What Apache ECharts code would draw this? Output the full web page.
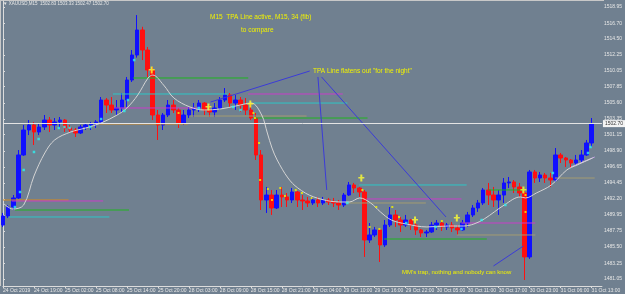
<!DOCTYPE html>
<html>
<head>
<meta charset="utf-8">
<script src="https://cdn.jsdelivr.net/npm/echarts@6/dist/echarts.min.js"></script>
<style>
  html, body { margin: 0; padding: 0; background: #708090; }
  #chart { width: 625px; height: 294px; }
</style>
</head>
<body>
<div id="chart"></div>
<script>
// time labels, one every 6 bars (hourly bars)
const xLabels = ['24 Oct 2019', '24 Oct 19:00', '25 Oct 02:00', '25 Oct 08:00', '25 Oct 14:00',
  '25 Oct 20:00', '28 Oct 03:00', '28 Oct 09:00', '28 Oct 15:00', '28 Oct 21:00',
  '29 Oct 04:00', '29 Oct 10:00', '29 Oct 16:00', '29 Oct 22:00', '30 Oct 05:00',
  '30 Oct 11:00', '30 Oct 17:00', '30 Oct 23:00', '31 Oct 06:00', '31 Oct 13:00'];
const barsPerLabel = 6;
const barSlots = 117;

const yTicks = [1481.05, 1483.25, 1485.50, 1487.75, 1489.95, 1492.20, 1494.45, 1496.65, 1498.90,
  1501.15, 1503.35, 1505.60, 1507.85, 1510.05, 1512.25, 1514.50, 1516.70, 1518.95];

// XAUUSD bars (open = previous close)
const firstOpen = 1488.57;
const closes = [
  1489.83, 1491.08, 1492.34, 1498.33, 1501.81, 1502.51, 1501.53, 1502.23, 1503.20, 1502.51,
  1502.93, 1503.20, 1502.09, 1501.81, 1501.39, 1502.23, 1502.51, 1502.65, 1502.93, 1505.99,
  1505.29, 1504.60, 1504.88, 1505.99, 1508.78, 1512.26, 1515.75, 1512.96, 1510.17, 1503.90,
  1502.51, 1503.90, 1505.29, 1504.60, 1502.79, 1503.90, 1504.60, 1504.88, 1505.57, 1504.60,
  1504.32, 1504.88, 1505.99, 1506.69, 1505.57, 1505.99, 1505.29, 1504.60, 1503.48, 1498.33,
  1492.06, 1492.75, 1490.94, 1492.75, 1492.48, 1492.06, 1493.17, 1492.06, 1491.92, 1491.64,
  1492.06, 1491.64, 1492.06, 1491.78, 1491.64, 1491.36, 1492.75, 1494.15, 1493.73, 1493.17,
  1486.48, 1487.18, 1487.88, 1485.79, 1488.57, 1489.97, 1489.27, 1488.57, 1489.27, 1488.57,
  1487.88, 1487.46, 1487.60, 1488.57, 1488.85, 1488.30, 1488.57, 1488.16, 1487.88, 1488.85,
  1489.97, 1490.94, 1491.64, 1493.45, 1492.75, 1492.06, 1492.75, 1494.43, 1494.57, 1493.87,
  1493.03, 1484.12, 1495.96, 1495.12, 1495.54, 1495.12, 1494.84, 1498.33, 1497.91, 1497.63,
  1497.21, 1497.63, 1498.33, 1500.00, 1502.70];
const highs = [
  1490.25, 1491.36, 1492.75, 1499.02, 1502.51, 1503.20, 1502.93, 1502.65, 1503.90, 1503.62,
  1503.48, 1503.62, 1503.34, 1502.51, 1502.09, 1502.51, 1502.79, 1502.93, 1503.20, 1506.41,
  1506.27, 1506.41, 1505.99, 1506.97, 1509.20, 1512.96, 1517.83, 1516.20, 1513.38, 1510.59,
  1504.60, 1504.18, 1505.99, 1505.99, 1504.88, 1504.60, 1505.02, 1505.57, 1505.99, 1505.71,
  1505.29, 1505.57, 1506.41, 1507.66, 1506.97, 1506.69, 1506.41, 1506.27, 1505.57, 1504.18,
  1499.02, 1493.87, 1493.45, 1493.45, 1493.87, 1493.03, 1493.73, 1493.31, 1492.75, 1492.48,
  1492.48, 1492.48, 1492.48, 1492.34, 1492.34, 1492.06, 1493.03, 1494.57, 1494.43, 1493.87,
  1493.45, 1488.85, 1488.30, 1488.02, 1489.27, 1491.08, 1490.66, 1489.69, 1489.97, 1489.41,
  1488.85, 1488.02, 1487.88, 1488.99, 1489.27, 1488.99, 1488.85, 1488.99, 1488.57, 1489.27,
  1490.39, 1491.36, 1492.06, 1493.73, 1494.43, 1493.87, 1493.45, 1495.12, 1495.26, 1494.84,
  1494.43, 1493.31, 1496.24, 1496.24, 1495.96, 1495.82, 1495.82, 1499.30, 1498.61, 1498.05,
  1497.77, 1498.33, 1499.02, 1500.42, 1503.48];
const lows = [
  1488.30, 1489.55, 1490.66, 1492.20, 1498.20, 1501.11, 1499.72, 1501.11, 1501.81, 1501.53,
  1501.81, 1502.09, 1501.53, 1501.39, 1500.84, 1501.25, 1501.81, 1501.81, 1502.09, 1502.79,
  1504.18, 1504.18, 1503.90, 1504.32, 1505.02, 1508.50, 1511.90, 1511.56, 1509.20, 1503.20,
  1500.42, 1501.81, 1503.62, 1504.18, 1502.09, 1502.51, 1503.48, 1503.62, 1504.32, 1503.90,
  1503.62, 1503.62, 1504.60, 1505.71, 1505.02, 1504.60, 1504.32, 1503.90, 1503.20, 1497.63,
  1490.66, 1490.25, 1489.97, 1490.80, 1491.08, 1491.08, 1491.64, 1491.08, 1490.66, 1491.08,
  1491.36, 1491.08, 1491.36, 1491.36, 1491.08, 1490.66, 1491.08, 1492.62, 1493.03, 1492.48,
  1484.12, 1486.07, 1486.90, 1483.42, 1485.51, 1488.30, 1488.30, 1487.60, 1488.30, 1487.88,
  1487.18, 1486.90, 1486.90, 1487.46, 1487.88, 1487.74, 1487.88, 1487.60, 1487.18, 1487.74,
  1488.30, 1489.69, 1490.39, 1491.36, 1491.36, 1491.08, 1489.97, 1491.64, 1493.73, 1493.03,
  1492.48, 1480.91, 1483.84, 1494.43, 1494.57, 1494.43, 1493.87, 1494.57, 1497.21, 1496.66,
  1496.52, 1496.93, 1497.21, 1498.20, 1499.44];
const lastPrice = 1502.70;

// TPA line (34 fib) points: [bar, price]
const tpaLine = [
  [0, 1491.64], [1.9, 1490.80], [4.0, 1491.36], [6.0, 1495.40], [8.1, 1498.61], [10.0, 1500.42],
  [13.1, 1501.53], [16.0, 1502.09], [19.0, 1502.79], [22.1, 1503.90], [24.0, 1504.88],
  [26.1, 1506.69], [28.1, 1509.06], [29.0, 1509.47], [31.1, 1508.08], [33.1, 1506.27],
  [36.2, 1505.02], [39.0, 1504.60], [42.1, 1504.74], [45.1, 1505.16], [48.1, 1505.57],
  [50.1, 1503.90], [51.2, 1501.39], [52.1, 1499.30], [53.1, 1497.63], [55.2, 1495.12],
  [57.1, 1493.73], [60.2, 1492.48], [65.2, 1491.78], [67.1, 1491.78], [69.1, 1492.34],
  [71.2, 1491.64], [73.1, 1490.39], [75.2, 1489.27], [78.1, 1488.71], [82.1, 1488.30],
  [86.2, 1488.43], [89.2, 1488.43], [91.2, 1488.71], [93.2, 1489.41], [97.1, 1491.36],
  [100.2, 1492.48], [101.2, 1492.34], [103.3, 1493.03], [106.2, 1494.15], [109.2, 1496.24],
  [111.2, 1496.93], [114.2, 1497.91]];

// horizontal levels: [fromBar, toBar, price, colour]
const levels = [
  [25.2, 47.5, 1509.06, 'green'], [21.3, 43.5, 1506.83, 'cyan'], [21.5, 38.3, 1504.88, 'magenta'],
  [18.7, 35.8, 1502.65, 'orange'], [47.5, 65.8, 1506.83, 'magenta'], [48.5, 66.7, 1505.57, 'cyan'],
  [36.3, 58.8, 1503.76, 'khaki'], [48.5, 70.6, 1503.48, 'green'], [0, 12.7, 1492.06, 'orange'],
  [1.7, 19.4, 1491.92, 'magenta'], [2.3, 24.4, 1490.66, 'green'], [1.2, 20.6, 1489.69, 'cyan'],
  [69, 89.8, 1494.15, 'cyan'], [70.4, 88.8, 1492.20, 'magenta'], [66.2, 81.9, 1491.64, 'khaki'],
  [73.8, 93.7, 1486.62, 'green'], [88.8, 103.1, 1488.85, 'magenta'], [87.9, 103.1, 1487.18, 'khaki'],
  [94, 101.2, 1493.45, 'green'], [106.9, 114.6, 1495.12, 'khaki']];
const levelColors = { green: '#1fb51f', cyan: '#2ec6c6', magenta: '#c83ec8', orange: '#d88a1c', khaki: '#a39b72' };

// drawn lines: [[bar, price], [bar, price], colour]
const trendLines = [
  [[40.2, 1505.71], [59.4, 1510.03], '#3b3bd8'],
  [[61.0, 1509.20], [62.7, 1493.45], '#3b3bd8'],
  [[61.7, 1509.20], [85.8, 1489.69], '#3b3bd8'],
  [[95.0, 1482.86], [100.8, 1485.65], '#3b3bd8'],
  [[110.0, 1496.66], [114.6, 1498.05], '#c8a8e8']];

const arrows = [[28.8, 1510.17], [39.8, 1505.02], [47.9, 1505.43], [69.4, 1495.12],
  [79.8, 1489.27], [87.9, 1489.55], [100.8, 1493.45]];
const cyanDots = [[2.3, 1491.08], [3.3, 1493.17], [4.0, 1496.24], [6.0, 1498.75], [6.9, 1500.56],
  [10.8, 1502.09], [11.9, 1502.23], [12.9, 1502.09], [16.9, 1502.23], [19.0, 1503.34],
  [23.5, 1504.46], [24.2, 1505.99], [25.4, 1511.56], [37.9, 1504.88], [44.6, 1505.02],
  [46.0, 1504.60], [66.7, 1491.64], [78.1, 1488.85], [83.8, 1488.30], [88.8, 1488.02],
  [92.7, 1489.27], [97.3, 1491.36], [106.5, 1495.82], [113.3, 1498.61], [113.8, 1499.44]];
const yellowDots = [[34.0, 1504.18], [48.5, 1504.18], [48.8, 1503.48], [49.6, 1500.00],
  [49.8, 1494.84], [51.3, 1493.59], [52.1, 1492.06], [53.7, 1493.73], [54.6, 1492.62],
  [56.7, 1493.45], [57.9, 1493.03], [59.8, 1492.34], [69.6, 1493.45], [71.0, 1488.30],
  [72.3, 1491.08], [72.9, 1488.02], [75.4, 1491.08], [76.7, 1489.69], [85.0, 1489.13],
  [101.2, 1492.75], [101.2, 1490.39]];

const chart = echarts.init(document.getElementById('chart'));

const slots = [];
for (let i = 0; i < barSlots; i++) slots.push(String(i));
const candles = closes.map((c, i) => [i === 0 ? firstOpen : closes[i - 1], c, lows[i], highs[i]]);
const labelAt = (i) => i % barsPerLabel === 0 && i / barsPerLabel < xLabels.length;
const font = 'Liberation Sans, Arial, sans-serif';

const series = [{
  type: 'candlestick',
  data: candles,
  barWidth: 4,
  z: 2,
  itemStyle: { color: '#1010ff', color0: '#ff1010', borderColor: '#1010ff', borderColor0: '#ff1010', borderWidth: 1 },
  markLine: {
    silent: true,
    symbol: 'none',
    animation: false,
    lineStyle: { color: '#e4e4e4', type: 'solid', width: 1 },
    label: {
      position: 'end', distance: 1, formatter: lastPrice.toFixed(2), fontSize: 5, fontFamily: font,
      color: '#333', backgroundColor: '#f4f4f4', padding: [1, 2]
    },
    data: [{ yAxis: lastPrice }]
  }
}];

levels.forEach(([a, b, p, c]) => series.push({
  type: 'line', xAxisIndex: 1, silent: true, symbol: 'none', z: 3,
  lineStyle: { color: levelColors[c], width: 1 },
  data: [[a, p], [b, p]]
}));
trendLines.forEach(([p1, p2, c]) => series.push({
  type: 'line', xAxisIndex: 1, silent: true, symbol: 'none', z: 3,
  lineStyle: { color: c, width: 1 },
  data: [p1, p2]
}));
series.push({
  type: 'line', xAxisIndex: 1, silent: true, symbol: 'none', smooth: 0.35, z: 4,
  lineStyle: { color: '#d4d4d4', width: 1 },
  data: tpaLine
});
series.push({
  type: 'scatter', xAxisIndex: 1, silent: true, symbol: 'rect', symbolSize: 2.5, z: 5,
  itemStyle: { color: '#2ff0f0' }, data: cyanDots
});
series.push({
  type: 'scatter', xAxisIndex: 1, silent: true, symbol: 'rect', symbolSize: 2, z: 5,
  itemStyle: { color: '#f4f400' }, data: yellowDots
});
series.push({
  type: 'scatter', xAxisIndex: 1, silent: true, z: 6,
  symbol: 'path://M2,0H4V2.5H6V4H4V7H2V4H0V2.5H2Z', symbolSize: [6, 7],
  itemStyle: { color: '#ffff30' }, data: arrows
});

chart.setOption({
  animation: false,
  backgroundColor: '#708090',
  grid: { left: 1, right: 21, top: 1, bottom: 8, containLabel: false },
  xAxis: [{
    type: 'category',
    data: slots,
    boundaryGap: false,
    axisLine: { lineStyle: { color: '#dcdcdc', width: 1 } },
    axisTick: { interval: labelAt, length: 2, lineStyle: { color: '#dcdcdc' } },
    axisLabel: {
      interval: labelAt, formatter: (v, i) => xLabels[i / barsPerLabel],
      align: 'left', fontSize: 5, fontFamily: font, color: '#e6e6e6', margin: 2
    },
    splitLine: { show: false }
  }, {
    type: 'value', min: 0, max: barSlots - 1, show: false
  }],
  yAxis: {
    type: 'value',
    position: 'right',
    min: 1480.07,
    max: 1519.79,
    axisLine: { show: true, lineStyle: { color: '#dcdcdc', width: 1 } },
    axisTick: { show: true, length: 2, customValues: yTicks, lineStyle: { color: '#dcdcdc' } },
    axisLabel: {
      customValues: yTicks, formatter: (v) => v.toFixed(2),
      fontSize: 5, fontFamily: font, color: '#e6e6e6', margin: 2
    },
    splitLine: { show: false }
  },
  graphic: [
    { type: 'rect', shape: { x: 0, y: 0, width: 604, height: 1 }, style: { fill: '#c8c8c8' }, silent: true },
    { type: 'rect', shape: { x: 0, y: 0, width: 1, height: 286 }, style: { fill: '#c8c8c8' }, silent: true },
    { type: 'text', x: 3, y: 4, silent: true,
      style: { text: '▼ XAUUSD,M15  1502.83 1503.33 1502.47 1502.70', fill: '#e8e8e8', fontSize: 4.5, fontFamily: font, verticalAlign: 'middle' } },
    { type: 'text', x: 210, y: 17, silent: true,
      style: { text: 'M15  TPA Line active, M15, 34 (fib)', fill: '#f2f200', fontSize: 6.5, fontFamily: font, verticalAlign: 'middle' } },
    { type: 'text', x: 241, y: 30, silent: true,
      style: { text: 'to compare', fill: '#f2f200', fontSize: 6.5, fontFamily: font, verticalAlign: 'middle' } },
    { type: 'text', x: 313, y: 71, silent: true,
      style: { text: 'TPA Line flatens out "for the night"', fill: '#f2f200', fontSize: 6.5, fontFamily: font, verticalAlign: 'middle' } },
    { type: 'text', x: 402, y: 272, silent: true,
      style: { text: "MM's trap, nothing and nobody can know", fill: '#f2f200', fontSize: 6, fontFamily: font, verticalAlign: 'middle' } }
  ],
  series: series
});
</script>
</body>
</html>
